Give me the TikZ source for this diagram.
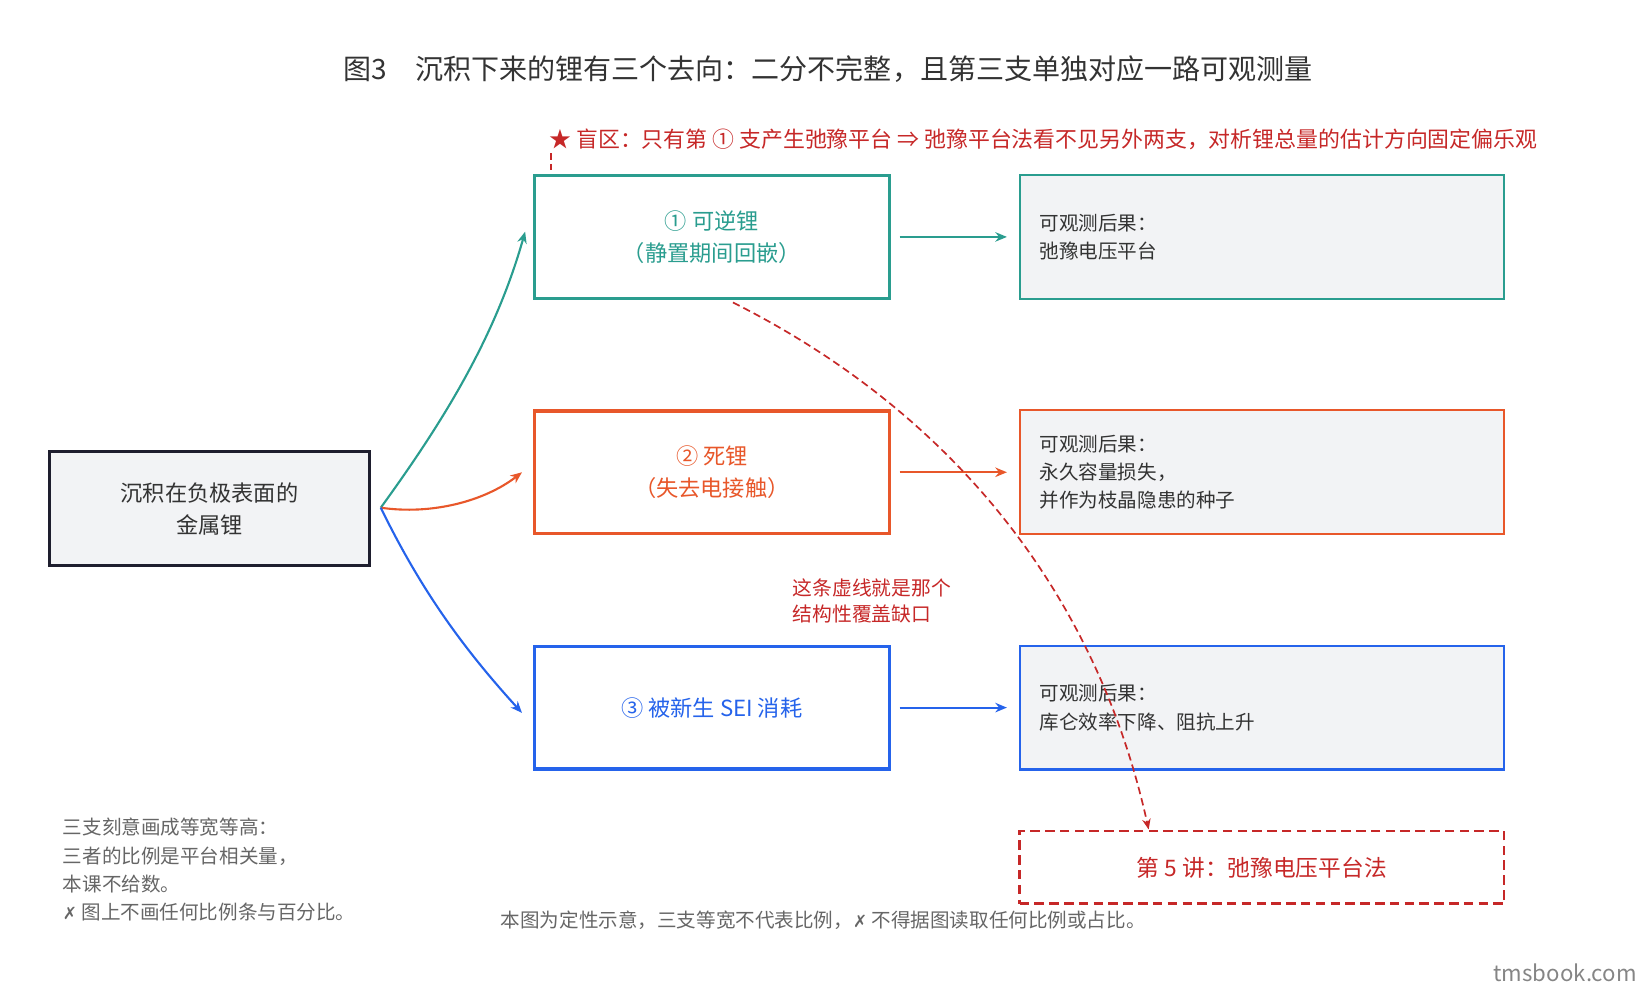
\documentclass[tikz,border=0pt]{standalone}
\usepackage{fontspec}
\setmainfont{Noto Sans CJK SC}
\newfontfamily\dejavu{DejaVu Sans}
\usetikzlibrary{arrows.meta}
\definecolor{teal1}{HTML}{2A9D8F}
\definecolor{orng}{HTML}{E8572A}
\definecolor{blu}{HTML}{2563EB}
\definecolor{redd}{HTML}{C62828}
\definecolor{grayf}{HTML}{F2F3F5}
\definecolor{dark}{HTML}{1E1E2E}
\definecolor{txt}{HTML}{333333}
\definecolor{note}{HTML}{666666}
\newcommand{\fs}[1]{\fontsize{#1}{#1}\selectfont}
\begin{document}
\begin{tikzpicture}[x=1pt,y=-1pt,
  mid/.style={draw,line width=3pt,fill=white,minimum width=336pt,minimum height=116pt,align=center,font=\fs{21}},
  obs/.style={draw,line width=2pt,fill=grayf,minimum width=458pt,minimum height=117pt,text width=420pt,align=left,font=\fs{18.5}\linespread{1.45}\selectfont,text=txt},
  arr/.style={-{Stealth[length=11pt,width=9pt]},line width=2pt}]
\useasboundingbox (0,0) rectangle (1560,936);
\node[font=\fs{26.5},text=txt] (title) at (783,65) {图3\quad 沉积下来的锂有三个去向：二分不完整，且第三支单独对应一路可观测量};
\node[draw=dark,line width=3pt,fill=grayf,minimum width=303pt,minimum height=108pt,align=center,font=\fs{21}\linespread{1.45}\selectfont,text=txt] (src) at (198,481) {沉积在负极表面的\\金属锂};
\node[mid,draw=teal1,text=teal1,font=\fs{21}\linespread{1.45}\selectfont] (b1) at (673,224) {① 可逆锂\\（静置期间回嵌）};
\node[mid,draw=orng,text=orng,font=\fs{21}\linespread{1.45}\selectfont] (b2) at (673,446.5) {② 死锂\\（失去电接触）};
\node[mid,draw=blu,text=blu] (b3) at (673,669) {③ 被新生 SEI 消耗};
\node[obs,draw=teal1] (o1) at (1193,224) {可观测后果：\\弛豫电压平台};
\node[obs,draw=orng] (o2) at (1193,446.5) {可观测后果：\\永久容量损失，\\并作为枝晶隐患的种子};
\node[obs,draw=blu] (o3) at (1193,669) {可观测后果：\\库仑效率下降、阻抗上升};
\node[draw=redd,dash pattern=on 9pt off 5pt,line width=2.5pt,minimum width=458pt,minimum height=69pt,text=redd,font=\fs{21.5}] (l5) at (1193,820) {第 5 讲：弛豫电压平台法};
\draw[arr,teal1] ([xshift=8pt]b1.east) -- ([xshift=-11pt]o1.west);
\draw[arr,orng] ([xshift=8pt]b2.east) -- ([xshift=-11pt]o2.west);
\draw[arr,blu] ([xshift=8pt]b3.east) -- ([xshift=-11pt]o3.west);
\coordinate (s) at (360,480);
\draw[arr,teal1] (s) .. controls (418,400) and (468,320) .. ([xshift=-7pt,yshift=5pt]b1.west);
\draw[arr,orng] (s) .. controls (408,487) and (458,474) .. ([xshift=-10pt]b2.west);
\draw[arr,blu] (s) .. controls (398,558) and (438,613) .. ([xshift=-10pt,yshift=-5pt]b3.west);
\coordinate (d0) at (693,286);
\draw[-{Stealth[length=10pt,width=8pt]},redd,line width=1.6pt,dash pattern=on 7pt off 4pt] (d0) .. controls (898,389) and (1036,558) .. ([xshift=-107pt]l5.north);
\node[anchor=west,text=redd,font=\fs{20.7}] (blind) at (516,132) {★ 盲区：只有第 ① 支产生弛豫平台 ⇒ 弛豫平台法看不见另外两支，对析锂总量的估计方向固定偏乐观};
\coordinate (bz) at (521,145);
\draw[redd,line width=1.6pt,dash pattern=on 6pt off 4pt] (bz) -- (bz|-b1.north);
\node[anchor=north west,text=redd,align=left,font=\fs{18.7}\linespread{1.3}\selectfont] (gap) at (746,544) {这条虚线就是那个\\结构性覆盖缺口};
\node[anchor=north west,text=note,align=left,font=\fs{18.5}\linespread{1.45}\selectfont] (ln) at (56,770) {三支刻意画成等宽等高：\\三者的比例是平台相关量，\\本课不给数。\\{\dejavu\fs{16}✗} 图上不画任何比例条与百分比。};
\node[anchor=west,text=note,font=\fs{18.5}] (bn) at (470,870) {本图为定性示意，三支等宽不代表比例，{\dejavu\fs{16}✗} 不得据图读取任何比例或占比。};
\node[anchor=east,text=note!80,font=\fs{21}] (wm) at (1551,920) {tmsbook.com};
\end{tikzpicture}
\end{document}
